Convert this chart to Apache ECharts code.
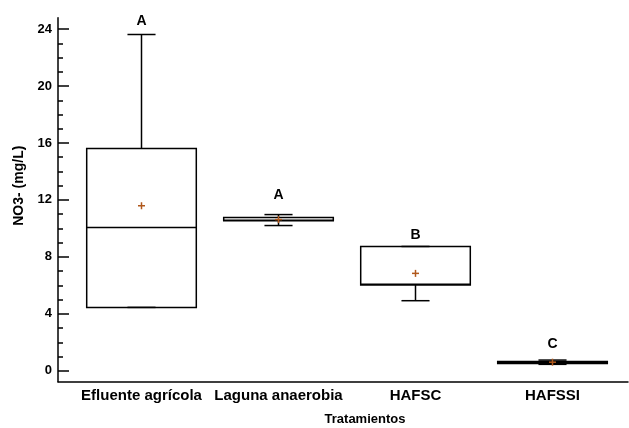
<!DOCTYPE html>
<html><head><meta charset="utf-8">
<script src="https://cdn.jsdelivr.net/npm/echarts@6/dist/echarts.min.js"></script>
<style>html,body{margin:0;padding:0;background:#fff}#c{width:629px;height:428px}</style>
</head><body><div id="c"></div>
<script>
const categories = ['Efluente agrícola', 'Laguna anaerobia', 'HAFSC', 'HAFSSI'];
const whiskerLow  = [4.45, 10.20, 4.92, 0.45];
const q1          = [4.45, 10.53, 6.02, 0.50];
const median      = [10.07, 10.58, 6.08, 0.58];
const q3          = [15.62, 10.76, 8.73, 0.65];
const whiskerHigh = [23.62, 10.97, 8.73, 0.75];
const means       = [11.59, 10.62, 6.84, 0.60];
const groupLetters = ['A', 'A', 'B', 'C'];
const letterLevel  = [24.58, 12.33, 9.56, 1.90];
const yTickValues  = [0, 4, 8, 12, 16, 20, 24];
const yMinorValues = [0,1,2,3,4,5,6,7,8,9,10,11,12,13,14,15,16,17,18,19,20,21,22,23,24];

const Y_MIN = -0.77, Y_MAX = 24.8;
const FONT = "'Liberation Sans', Arial, sans-serif";

const rows = categories.map((c, i) => [i, whiskerLow[i], q1[i], median[i], q3[i], whiskerHigh[i], means[i]]);

const chart = echarts.init(document.getElementById('c'), null, {renderer: 'canvas'});
const T = 17.7, B = 46.3;

const hiddenX = (g) => ({type: 'value', gridIndex: g, min: 0, max: 1, show: false,
  axisLine: {onZero: false}, splitLine: {show: false}});

chart.setOption({
  animation: false,
  backgroundColor: '#fff',
  grid: [
    {left: 73, right: 8, top: T, bottom: B, outerBoundsMode: 'none', containLabel: false},
    {left: 58, right: 1, top: T, bottom: B, outerBoundsMode: 'none', containLabel: false},
    {left: 0, width: 58, top: T, bottom: B, outerBoundsMode: 'none', containLabel: false}
  ],
  xAxis: [
    {
      type: 'category', gridIndex: 0, data: categories, boundaryGap: true,
      axisLine: {show: false, onZero: false}, axisTick: {show: false},
      axisLabel: {color: '#000', fontFamily: FONT, fontWeight: 'bold', fontSize: 15, margin: 7, interval: 0},
      name: 'Tratamientos', nameLocation: 'middle', nameGap: 31,
      nameTextStyle: {color: '#000', fontFamily: FONT, fontWeight: 'bold', fontSize: 13, padding: [0, 0, 0, 36]}
    },
    {
      type: 'value', gridIndex: 1, min: 0, max: 1,
      axisLine: {show: true, onZero: false, lineStyle: {color: '#000', width: 1.5}},
      axisTick: {show: false}, axisLabel: {show: false}, splitLine: {show: false}
    },
    hiddenX(2)
  ],
  yAxis: [
    {type: 'value', gridIndex: 0, min: Y_MIN, max: Y_MAX, show: false, splitLine: {show: false}},
    {
      type: 'value', gridIndex: 1, min: Y_MIN, max: Y_MAX, position: 'left',
      axisLine: {show: true, onZero: false, lineStyle: {color: '#000', width: 1.5}},
      axisTick: {show: false},
      axisLabel: {show: true, customValues: yTickValues, color: '#000', fontFamily: FONT, fontWeight: 'bold', fontSize: 13, margin: 6},
      splitLine: {show: false},
      name: 'NO3- (mg/L)', nameLocation: 'middle', nameGap: 31,
      nameTextStyle: {color: '#000', fontFamily: FONT, fontWeight: 'bold', fontSize: 14, padding: [0, 0, 0, 28]}
    },
    {
      type: 'value', gridIndex: 2, min: Y_MIN, max: Y_MAX, position: 'right',
      axisLine: {show: false, onZero: false},
      axisTick: {show: true, length: 11, customValues: yTickValues, lineStyle: {color: '#000', width: 1.5}},
      axisLabel: {show: false}, splitLine: {show: false}
    },
    {
      type: 'value', gridIndex: 2, min: Y_MIN, max: Y_MAX, position: 'right',
      axisLine: {show: false, onZero: false},
      axisTick: {show: true, length: 5, customValues: yMinorValues, lineStyle: {color: '#000', width: 1.5}},
      axisLabel: {show: false}, splitLine: {show: false}
    }
  ],
  series: [{
    type: 'custom',
    xAxisIndex: 0, yAxisIndex: 0,
    data: rows,
    encode: {x: 0, y: [1, 2, 3, 4, 5]},
    clip: false,
    renderItem: function (params, api) {
      const i = api.value(0);
      const band = api.size([1, 0])[0];
      const xc = api.coord([i, 0])[0];
      const bw = band * 0.8;
      const cw = band * 0.205;
      const y = v => api.coord([i, v])[1];
      const yLo = y(api.value(1)), yQ1 = y(api.value(2)), yMed = y(api.value(3)),
            yQ3 = y(api.value(4)), yHi = y(api.value(5)), yMean = y(api.value(6));
      const ls = {stroke: '#000', lineWidth: 1.5, fill: null};
      const ms = 3.5;
      const meanStyle = {stroke: '#b0581c', lineWidth: 1.5};
      return {
        type: 'group',
        children: [
          {type: 'line', shape: {x1: xc, y1: yQ3, x2: xc, y2: yHi}, style: ls},
          {type: 'line', shape: {x1: xc, y1: yQ1, x2: xc, y2: yLo}, style: ls},
          {type: 'rect', shape: {x: xc - bw / 2, y: yQ3, width: bw, height: yQ1 - yQ3},
           style: {fill: '#fff', stroke: '#000', lineWidth: 1.5}},
          {type: 'line', shape: {x1: xc - bw / 2, y1: yMed, x2: xc + bw / 2, y2: yMed}, style: ls},
          {type: 'line', shape: {x1: xc - cw / 2, y1: yHi, x2: xc + cw / 2, y2: yHi}, style: ls},
          {type: 'line', shape: {x1: xc - cw / 2, y1: yLo, x2: xc + cw / 2, y2: yLo}, style: ls},
          {type: 'line', shape: {x1: xc - ms, y1: yMean, x2: xc + ms, y2: yMean}, style: meanStyle},
          {type: 'line', shape: {x1: xc, y1: yMean - ms, x2: xc, y2: yMean + ms}, style: meanStyle},
          {type: 'text', style: {text: groupLetters[i], x: xc, y: y(letterLevel[i]),
            align: 'center', verticalAlign: 'middle',
            font: 'bold 14px ' + FONT, fill: '#000'}}
        ]
      };
    }
  }]
});
</script>
</body></html>
